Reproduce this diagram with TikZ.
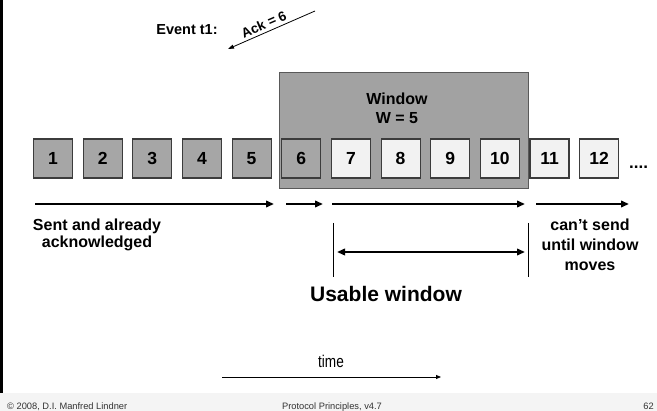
\documentclass[tikz,border=0pt]{standalone}
\usepackage{fontspec}
\setmainfont{Liberation Sans}
\usetikzlibrary{arrows.meta}
\definecolor{sentfill}{HTML}{A6A6A6}
\definecolor{freefill}{HTML}{F2F2F2}
\definecolor{winfill}{HTML}{A2A2A2}
\definecolor{edgegray}{HTML}{3C3C3C}
\definecolor{footfill}{HTML}{F4F4F4}
\begin{document}
\begin{tikzpicture}[x=1pt,y=-1pt,
  pkt/.style={draw=edgegray,line width=1.1pt,minimum width=39pt,minimum height=39pt,
    inner sep=0pt,font=\fontsize{17.5}{20}\selectfont\bfseries},
  sentpkt/.style={pkt,fill=sentfill},
  freepkt/.style={pkt,fill=freefill},
  winbox/.style={draw=black!65,line width=1pt,fill=winfill,minimum width=249pt,minimum height=116pt,inner sep=0pt},
  lbl/.style={inner sep=0pt,font=\fontsize{16}{17}\selectfont\bfseries,align=center},
  bigarrow/.style={line width=2pt,-{Triangle[length=8pt,width=6.5pt]}},
  thinarrow/.style={line width=0.8pt,-{Triangle[length=6pt,width=4pt]}},
  footer/.style={inner sep=0pt,font=\fontsize{9.3}{11}\selectfont,text=black!80}]
\useasboundingbox (0,0) rectangle (657,411);

% footer strip and left frame line
\fill[footfill] (0,393) rectangle (657,411);
\draw[line width=2.6pt] (1.3,0) -- (1.3,393);

% event: acknowledgement arriving
\node[lbl,font=\fontsize{14.5}{16}\selectfont\bfseries,anchor=base] (event) at (187,34.5) {Event t1:};
\coordinate (ackS) at (315,11);
\coordinate (ackE) at (228,49);
\draw[thinarrow] (ackS) -- node[pos=0.55,sloped,above=3pt,inner sep=0pt,font=\fontsize{13.5}{15}\selectfont\bfseries] (acklbl) {Ack = 6} (ackE);

% sliding window
\node[winbox] (win) at (403.5,131) {};
\node[lbl,font=\fontsize{16}{19}\selectfont\bfseries,anchor=north] (winlbl) at (397,92.3) {Window\\W = 5};

% packets
\foreach \i in {1,...,6}
  \node[sentpkt] (b\i) at ({53+49.65*(\i-1)},158.5) {\i};
\foreach \i in {7,...,12}
  \node[freepkt] (b\i) at ({53+49.65*(\i-1)},158.5) {\i};
\node[inner sep=0pt,anchor=base west,font=\fontsize{17}{20}\selectfont\bfseries] (dots) at (629,169) {....};

% range arrows
\coordinate (r1s) at (35,204);  \coordinate (r1e) at (274,204);
\coordinate (r2s) at (286,204); \coordinate (r2e) at (323,204);
\coordinate (r3s) at (332,204); \coordinate (r3e) at (525,204);
\coordinate (r4s) at (536,204); \coordinate (r4e) at (629,204);
\draw[bigarrow] (r1s) -- (r1e);
\draw[bigarrow] (r2s) -- (r2e);
\draw[bigarrow] (r3s) -- (r3e);
\draw[bigarrow] (r4s) -- (r4e);

\node[lbl,anchor=north] (sent) at (97,218.3) {Sent and already\\acknowledged};
\node[lbl,font=\fontsize{16}{20}\selectfont\bfseries,anchor=north] (cant) at (590,218.4) {can't send\\until window\\moves};

% usable window bracket
\coordinate (uLt) at (333.5,223); \coordinate (uLb) at (333.5,277);
\coordinate (uRt) at (528,223);   \coordinate (uRb) at (528,277);
\draw[line width=0.8pt] (uLt) -- (uLb);
\draw[line width=0.8pt] (uRt) -- (uRb);
\coordinate (uS) at (337,252); \coordinate (uE) at (525,252);
\draw[line width=2pt,{Triangle[length=8pt,width=6.5pt]}-{Triangle[length=8pt,width=6.5pt]}] (uS) -- (uE);
\node[inner sep=0pt,anchor=base,font=\fontsize{21}{24}\selectfont\bfseries] (usable) at (386,302) {Usable window};

% time axis
\coordinate (tS) at (222,377); \coordinate (tE) at (441,377);
\draw[line width=0.8pt,-{Triangle[length=5pt,width=4pt]}] (tS) -- (tE);
\node[inner sep=0pt,anchor=base] (time) at (331,368) {\scalebox{0.8}[1]{\fontsize{17}{20}\selectfont time}};

% footer texts
\node[footer,anchor=base west] (copy) at (7,409.3) {© 2008, D.I. Manfred Lindner};
\node[footer,anchor=base] (title) at (332,409.3) {Protocol Principles, v4.7};
\node[footer,anchor=base east] (page) at (654,409.3) {62};
\end{tikzpicture}
\end{document}
